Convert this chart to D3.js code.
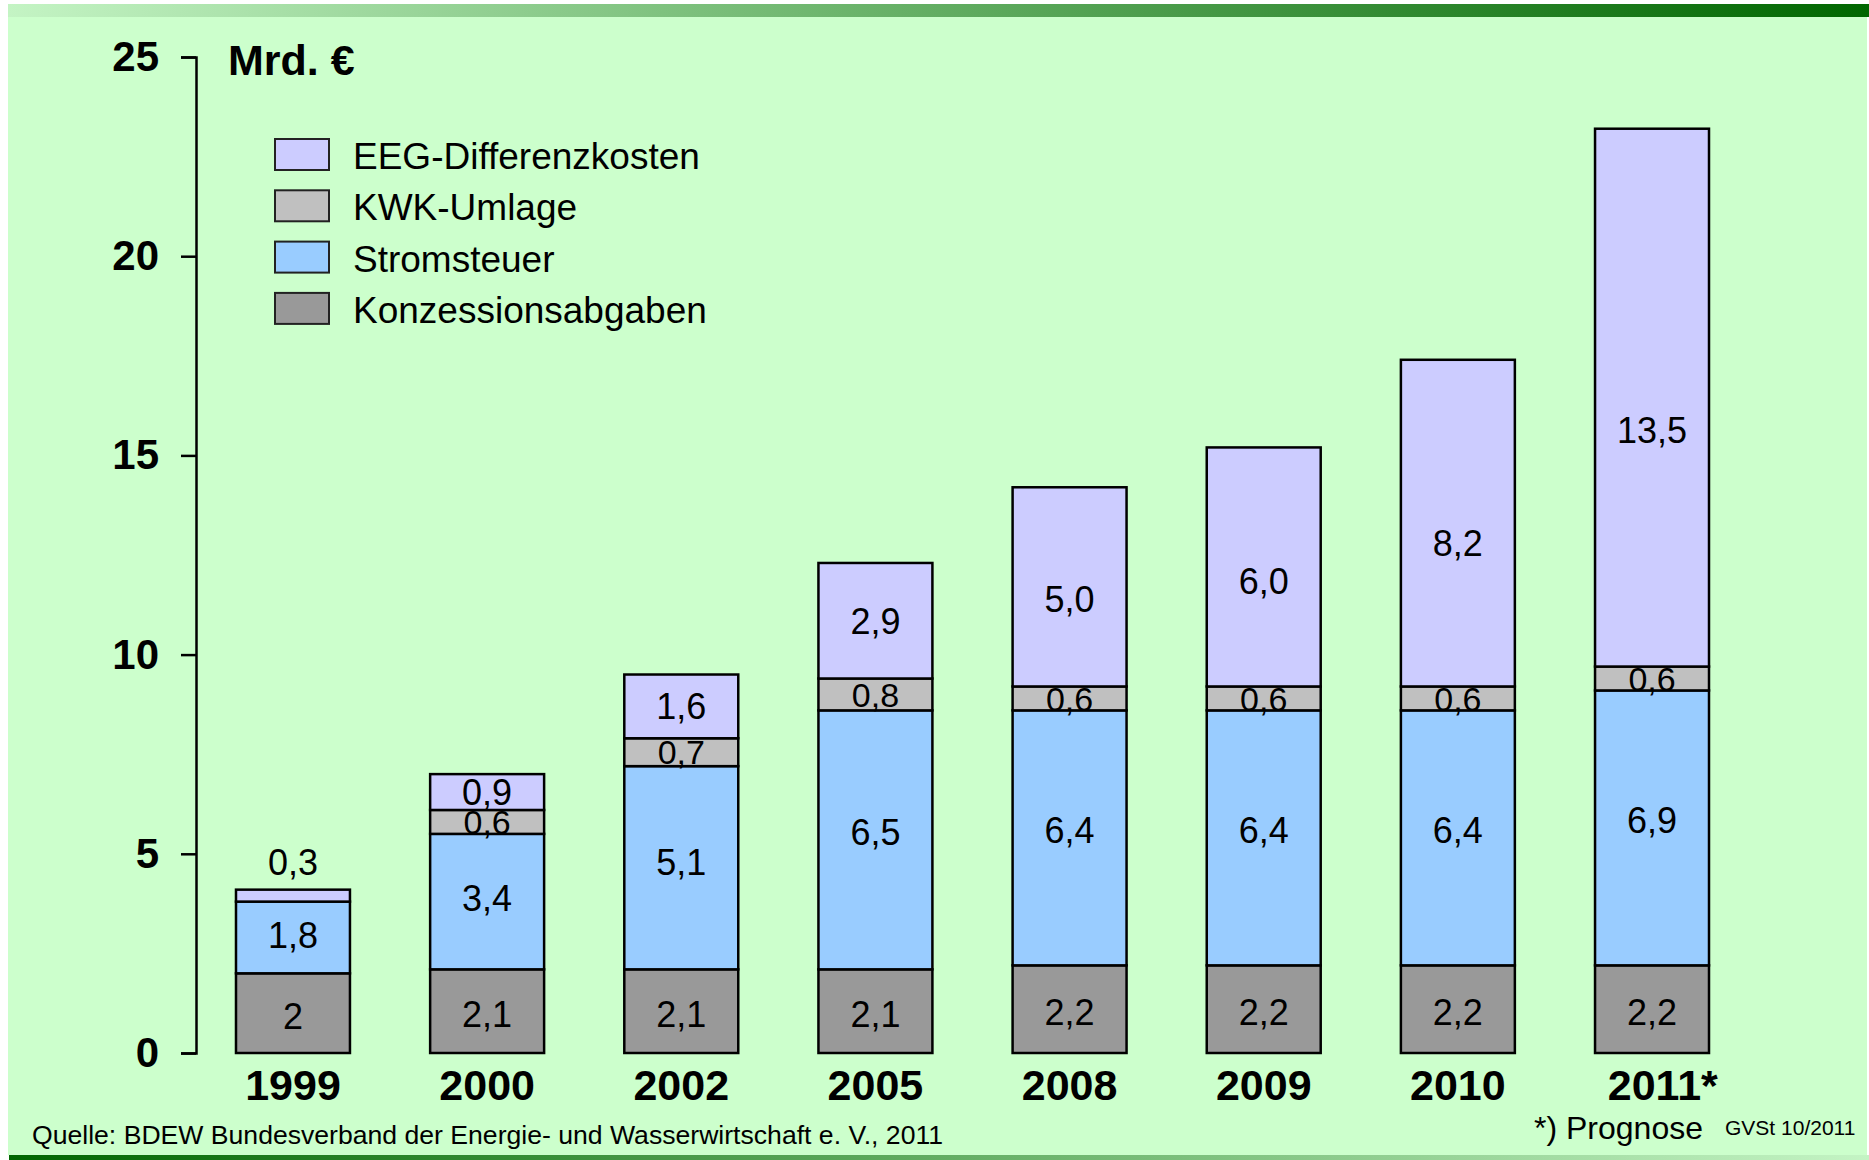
<!DOCTYPE html>
<html>
<head>
<meta charset="utf-8">
<script src="https://cdn.jsdelivr.net/npm/d3@7"></script>
<style>
  body { margin: 0; background: #fff; }
  svg text { font-family: "Liberation Sans", Arial, sans-serif; }
</style>
</head>
<body>
<div id="chart"></div>
<script>
const years = ['1999', '2000', '2002', '2005', '2008', '2009', '2010', '2011*'];
const konzession = [2.0, 2.1, 2.1, 2.1, 2.2, 2.2, 2.2, 2.2];
const stromsteuer = [1.8, 3.4, 5.1, 6.5, 6.4, 6.4, 6.4, 6.9];
const kwkUmlage = [0, 0.6, 0.7, 0.8, 0.6, 0.6, 0.6, 0.6];
const eegKosten = [0.3, 0.9, 1.6, 2.9, 5.0, 6.0, 8.2, 13.5];
const yTicks = [0, 5, 10, 15, 20, 25];
const legendNames = ['EEG-Differenzkosten', 'KWK-Umlage', 'Stromsteuer', 'Konzessionsabgaben'];

const W = 1869, H = 1160;
const de = d3.formatLocale({ decimal: ',', thousands: '.', grouping: [3], currency: ['', ' €'] });

// bottom to top
const series = [
    { key: 'konz', name: 'Konzessionsabgaben', values: konzession, color: '#999999', fmt: de.format('.1~f'), size: 36, frac: () => 0.47 },
    { key: 'strom', name: 'Stromsteuer', values: stromsteuer, color: '#99ccff', fmt: de.format('.1f'), size: 36, frac: () => 0.53 },
    { key: 'kwk', name: 'KWK-Umlage', values: kwkUmlage, color: '#c0c0c0', fmt: de.format('.1f'), size: 34, frac: () => 0.5 },
    { key: 'eeg', name: 'EEG-Differenzkosten', values: eegKosten, color: '#ccccff', fmt: de.format('.1f'), size: 36, frac: v => v > 4 ? 0.44 : 0.5 }
];

const rows = years.map((y, i) => {
    const r = { year: y };
    series.forEach(s => r[s.key] = s.values[i]);
    return r;
});
const stacked = d3.stack().keys(series.map(s => s.key))(rows);

const svg = d3.select('#chart').append('svg')
    .attr('width', W)
    .attr('height', H);

const defs = svg.append('defs');
const gTop = defs.append('linearGradient').attr('id', 'gTop');
gTop.append('stop').attr('offset', '0%').attr('stop-color', '#c4f4c4');
gTop.append('stop').attr('offset', '100%').attr('stop-color', '#006600');
const gBot = defs.append('linearGradient').attr('id', 'gBot');
gBot.append('stop').attr('offset', '0%').attr('stop-color', '#006600');
gBot.append('stop').attr('offset', '100%').attr('stop-color', '#c4f4c4');

// background panel
svg.append('rect').attr('x', 8).attr('y', 17).attr('width', W - 10).attr('height', 1138).attr('fill', '#ccffcc');
svg.append('rect').attr('x', 8).attr('y', 4).attr('width', W - 8).attr('height', 13).attr('fill', 'url(#gTop)');
svg.append('rect').attr('x', 9).attr('y', 1155).attr('width', W - 9).attr('height', 5).attr('fill', 'url(#gBot)');

const x = d3.scaleBand()
    .domain(years)
    .range([196, 1749])
    .paddingInner(0.413)
    .paddingOuter(0.206);

const y = d3.scaleLinear()
    .domain([0, 25])
    .range([1053, 57]);

// y axis
const yAxis = svg.append('g')
    .attr('transform', 'translate(196,0)')
    .call(d3.axisLeft(y).tickValues(yTicks).tickFormat(d3.format('d')).tickSize(15).tickPadding(22));
yAxis.select('.domain').attr('stroke', '#000').attr('stroke-width', 2.5);
yAxis.selectAll('.tick line').attr('stroke', '#000').attr('stroke-width', 2.5);
yAxis.selectAll('.tick text')
    .attr('fill', '#000')
    .style('font-size', '42px')
    .style('font-weight', 'bold');

// x labels
const xAxis = svg.append('g')
    .attr('transform', 'translate(0,1053)')
    .call(d3.axisBottom(x).tickSize(0).tickPadding(16));
xAxis.select('.domain').remove();
xAxis.selectAll('.tick text')
    .attr('fill', '#000')
    .attr('dx', d => d.endsWith('*') ? '0.25em' : null)
    .style('font-size', '43px')
    .style('font-weight', 'bold');

// stacked bars
const layers = svg.append('g').selectAll('g')
    .data(stacked)
    .join('g')
    .attr('fill', (d, i) => series[i].color);

layers.selectAll('rect')
    .data(d => d.filter(p => p[1] - p[0] > 0))
    .join('rect')
    .attr('x', d => x(d.data.year))
    .attr('width', x.bandwidth())
    .attr('y', d => y(d[1]))
    .attr('height', d => y(d[0]) - y(d[1]))
    .attr('stroke', '#000')
    .attr('stroke-width', 2.5);

// value labels
stacked.forEach((layer, i) => {
    const s = series[i];
    svg.append('g').selectAll('text')
        .data(layer.filter(p => p[1] - p[0] > 0))
        .join('text')
        .attr('x', d => x(d.data.year) + x.bandwidth() / 2)
        .attr('y', d => {
            const v = d[1] - d[0];
            if (y(d[0]) - y(d[1]) < 20) return y(d[1]) - 15;
            return y(d[0] + v * s.frac(v)) + s.size * 0.36;
        })
        .attr('text-anchor', 'middle')
        .attr('fill', '#000')
        .style('font-size', s.size + 'px')
        .text(d => s.fmt(d[1] - d[0]));
});

// unit label
svg.append('text')
    .attr('x', 228)
    .attr('y', 75)
    .style('font-size', '43px')
    .style('font-weight', 'bold')
    .text('Mrd. €');

// legend
const legend = svg.append('g').selectAll('g')
    .data(legendNames)
    .join('g')
    .attr('transform', (d, i) => `translate(275, ${139 + i * 51.3})`);
legend.append('rect')
    .attr('width', 54)
    .attr('height', 31)
    .attr('fill', d => series.find(s => s.name === d).color)
    .attr('stroke', '#222')
    .attr('stroke-width', 2);
legend.append('text')
    .attr('x', 78)
    .attr('y', 30)
    .style('font-size', '37px')
    .text(d => d);

// footnotes
svg.append('text')
    .attr('x', 32)
    .attr('y', 1144)
    .style('font-size', '26.6px')
    .text('Quelle: BDEW Bundesverband der Energie- und Wasserwirtschaft e. V., 2011');
svg.append('text')
    .attr('x', 1534)
    .attr('y', 1139)
    .style('font-size', '32px')
    .text('*) Prognose');
svg.append('text')
    .attr('x', 1725)
    .attr('y', 1135)
    .style('font-size', '21px')
    .text('GVSt 10/2011');
</script>
</body>
</html>
